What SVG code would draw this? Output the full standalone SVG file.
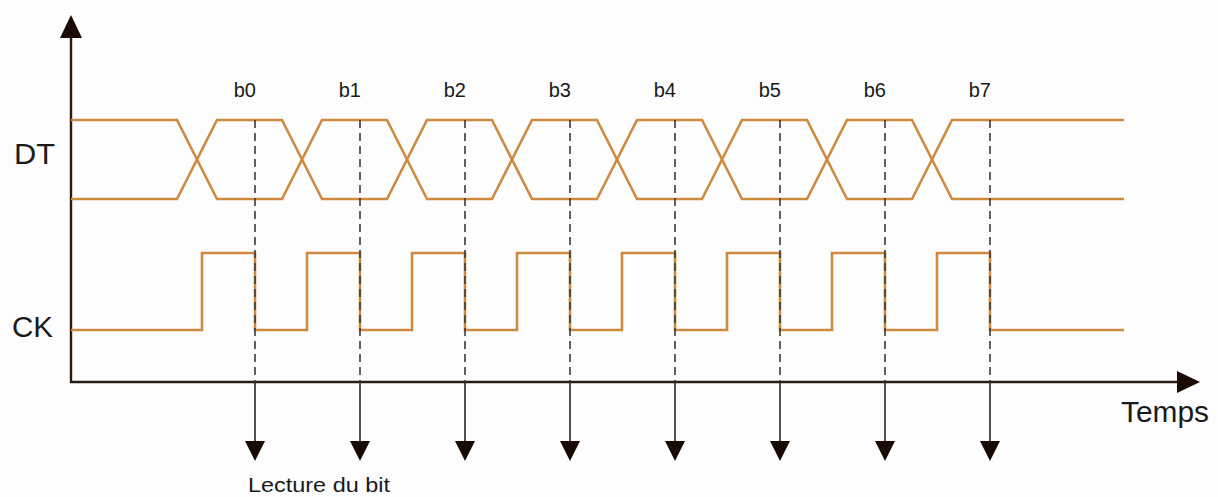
<svg xmlns="http://www.w3.org/2000/svg" width="1218" height="497" viewBox="0 0 1218 497">
<style>
.wave{fill:none;stroke:#D08A40;stroke-width:2.6;stroke-linejoin:miter}
.axis{fill:none;stroke:#2a1a10;stroke-width:2.4}
.dash{fill:none;stroke:#3a3a3a;stroke-width:1.6;stroke-dasharray:8 5}
.lead{fill:none;stroke:#2a2222;stroke-width:1.6}
.head{fill:#1a0a04}
.lbl{font-family:"Liberation Sans",Arial,sans-serif;fill:#1a1a1a}
</style>
<rect width="1218" height="497" fill="#FCFDFC"/>
<g id="axes">
<line class="axis" x1="71" y1="383" x2="71" y2="36"/>
<polygon class="head" points="71,15 60,38 82,38"/>
<line class="axis" x1="70" y1="382" x2="1180" y2="382"/>
<polygon class="head" points="1200,382 1177,371 1177,393"/>
</g>
<g id="labels">
<text class="lbl" x="14" y="164" font-size="29" textLength="41" lengthAdjust="spacingAndGlyphs">DT</text>
<text class="lbl" x="12" y="337" font-size="29" textLength="41" lengthAdjust="spacingAndGlyphs">CK</text>
<text class="lbl" x="1121" y="422" font-size="29" textLength="88" lengthAdjust="spacingAndGlyphs">Temps</text>
<text class="lbl" x="248" y="492" font-size="20" textLength="142" lengthAdjust="spacingAndGlyphs">Lecture du bit</text>
<g font-size="20" text-anchor="end">
<text class="lbl" x="256" y="97">b0</text>
<text class="lbl" x="361" y="97">b1</text>
<text class="lbl" x="466" y="97">b2</text>
<text class="lbl" x="571" y="97">b3</text>
<text class="lbl" x="676" y="97">b4</text>
<text class="lbl" x="781" y="97">b5</text>
<text class="lbl" x="886" y="97">b6</text>
<text class="lbl" x="991" y="97">b7</text>
</g>
</g>
<g id="DT">
<path class="wave" d="M71,120 H177 L217,199 H282 L322,120 H387 L427,199 H492 L532,120 H597 L637,199 H702 L742,120 H807 L847,199 H912 L952,120 H1124"/>
<path class="wave" d="M71,199 H177 L217,120 H282 L322,199 H387 L427,120 H492 L532,199 H597 L637,120 H702 L742,199 H807 L847,120 H912 L952,199 H1124"/>
</g>
<g id="CK">
<path class="wave" d="M71,330 H202 V253 H255 V330 H307 V253 H360 V330 H412 V253 H465 V330 H517 V253 H570 V330 H622 V253 H675 V330 H727 V253 H780 V330 H832 V253 H885 V330 H937 V253 H990 V330 H1124"/>
</g>
<g id="connectors">
<g id="read-b0"><line class="dash" x1="255" y1="120" x2="255" y2="382"/><line class="lead" x1="255" y1="382" x2="255" y2="442"/><polygon class="head" points="255,461 245,441 265,441"/></g>
<g id="read-b1"><line class="dash" x1="360" y1="120" x2="360" y2="382"/><line class="lead" x1="360" y1="382" x2="360" y2="442"/><polygon class="head" points="360,461 350,441 370,441"/></g>
<g id="read-b2"><line class="dash" x1="465" y1="120" x2="465" y2="382"/><line class="lead" x1="465" y1="382" x2="465" y2="442"/><polygon class="head" points="465,461 455,441 475,441"/></g>
<g id="read-b3"><line class="dash" x1="570" y1="120" x2="570" y2="382"/><line class="lead" x1="570" y1="382" x2="570" y2="442"/><polygon class="head" points="570,461 560,441 580,441"/></g>
<g id="read-b4"><line class="dash" x1="675" y1="120" x2="675" y2="382"/><line class="lead" x1="675" y1="382" x2="675" y2="442"/><polygon class="head" points="675,461 665,441 685,441"/></g>
<g id="read-b5"><line class="dash" x1="780" y1="120" x2="780" y2="382"/><line class="lead" x1="780" y1="382" x2="780" y2="442"/><polygon class="head" points="780,461 770,441 790,441"/></g>
<g id="read-b6"><line class="dash" x1="885" y1="120" x2="885" y2="382"/><line class="lead" x1="885" y1="382" x2="885" y2="442"/><polygon class="head" points="885,461 875,441 895,441"/></g>
<g id="read-b7"><line class="dash" x1="990" y1="120" x2="990" y2="382"/><line class="lead" x1="990" y1="382" x2="990" y2="442"/><polygon class="head" points="990,461 980,441 1000,441"/></g>
</g>
</svg>
